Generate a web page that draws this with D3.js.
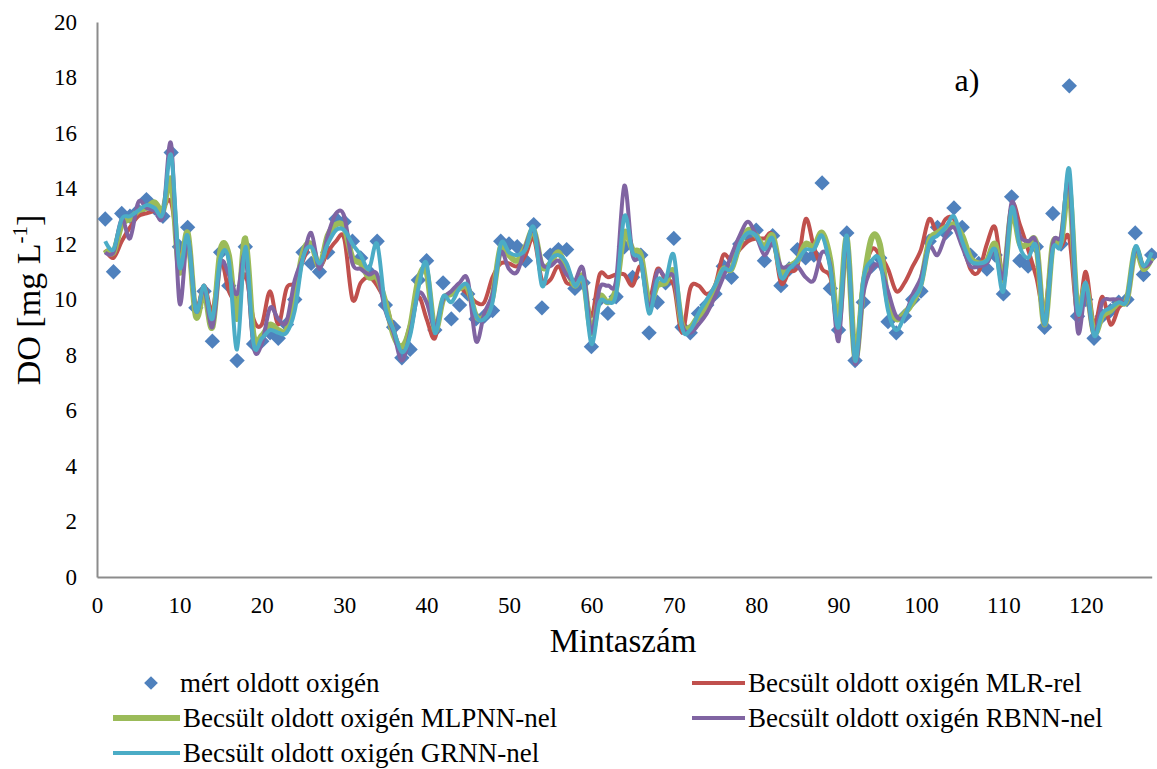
<!DOCTYPE html>
<html>
<head>
<meta charset="utf-8">
<script src="https://cdn.jsdelivr.net/npm/d3@7"></script>
<style>
  html, body { margin: 0; padding: 0; background: #fff; }
  svg { display: block; }
</style>
</head>
<body>
<svg id="chart" width="1157" height="769"></svg>
<script>
// Sample numbers 1..128
const sampleIds = d3.range(1, 129);

// Measured dissolved oxygen [mg/L]
const measured = [
  12.9, 11.0, 13.1, 13.0, 13.2, 13.6, 13.3, 13.0, 15.3, 11.9,
  12.6, 9.7, 10.3, 8.5, 11.7, 10.5, 7.8, 11.9, 8.4, 8.5,
  8.8, 8.6, 9.1, 10.0, 11.7, 11.3, 11.0, 11.7, 12.9, 12.8,
  12.1, 11.5, 11.0, 12.1, 9.8, 9.0, 7.9, 8.2, 10.7, 11.4,
  8.9, 10.6, 9.3, 9.8, 10.2, 9.3, 9.4, 9.6, 12.1, 12.0,
  11.9, 11.4, 12.7, 9.7, 11.6, 11.8, 11.8, 10.4, 10.6, 8.3,
  10.0, 9.5, 10.1, 11.9, 10.8, 11.6, 8.8, 9.9, 10.6, 12.2,
  9.0, 8.8, 9.5, 9.8, 10.2, 11.2, 10.8, 12.0, 12.3, 12.5,
  11.4, 12.3, 10.5, 11.1, 11.8, 11.5, 11.6, 14.2, 10.4, 8.9,
  12.4, 7.8, 9.9, 11.2, 11.5, 9.2, 8.8, 9.4, 10.0, 10.3,
  12.1, 12.6, 12.4, 13.3, 12.6, 11.6, 11.3, 11.1, 11.6, 10.2,
  13.7, 11.4, 11.2, 11.9, 9.0, 13.1, 12.0, 17.7, 9.4, 10.0,
  8.6, 9.4, 9.6, 9.9, 10.0, 12.4, 10.9, 11.6
];

// Estimated with multiple linear regression
const mlr = [
  11.8, 11.5, 12.1, 12.6, 13.0, 13.1, 13.2, 13.3, 13.5, 11.6,
  12.0, 9.7, 10.5, 9.6, 11.4, 10.3, 10.0, 10.9, 9.3, 9.1,
  10.3, 9.1, 10.4, 10.6, 11.4, 12.0, 11.2, 11.7, 12.1, 12.2,
  10.0, 10.6, 10.8, 10.5, 9.9, 8.9, 8.2, 9.1, 10.1, 9.3,
  8.6, 10.0, 10.2, 10.4, 10.2, 9.9, 9.9, 10.8, 11.3, 11.3,
  11.2, 11.6, 12.2, 10.7, 10.7, 11.2, 10.6, 10.6, 10.6, 9.4,
  10.9, 10.8, 10.9, 10.9, 10.5, 11.2, 10.0, 11.1, 10.7, 10.5,
  8.8, 10.4, 10.5, 10.2, 10.5, 11.6, 11.4, 11.8, 12.1, 12.2,
  12.2, 12.3, 10.6, 11.0, 11.2, 12.9, 11.9, 11.1, 10.8, 9.3,
  12.0, 8.1, 10.7, 11.8, 11.6, 11.1, 10.3, 10.6, 11.2, 11.8,
  12.9, 12.4, 12.9, 12.9, 12.1, 11.1, 11.0, 12.0, 12.6, 10.9,
  13.4, 12.7, 11.8, 10.8, 9.6, 11.9, 11.9, 12.2, 9.4, 11.0,
  9.1, 10.1, 9.1, 9.7, 10.1, 11.8, 11.2, 11.5
];

// Estimated with MLP neural network
const mlpnn = [
  11.8, 11.7, 12.7, 12.9, 13.2, 13.3, 13.5, 13.2, 14.3, 11.0,
  12.4, 9.4, 10.3, 9.0, 11.8, 11.6, 9.3, 12.2, 8.7, 8.7,
  9.1, 8.9, 8.9, 10.1, 11.7, 12.0, 11.2, 12.3, 12.7, 12.6,
  11.5, 11.3, 10.8, 10.8, 9.9, 8.7, 8.3, 9.0, 10.7, 11.0,
  8.9, 10.0, 10.2, 10.4, 10.4, 9.4, 9.4, 10.1, 11.9, 11.6,
  11.4, 11.9, 12.5, 11.2, 11.3, 11.7, 11.1, 10.5, 10.8, 8.8,
  10.1, 9.9, 10.4, 12.4, 11.8, 11.6, 9.9, 10.5, 10.6, 11.0,
  9.1, 9.0, 9.4, 9.7, 10.4, 11.1, 11.1, 12.0, 12.5, 12.3,
  11.9, 12.3, 11.0, 11.2, 11.4, 12.0, 11.9, 12.4, 11.4, 9.1,
  12.2, 7.9, 10.5, 12.2, 12.0, 9.9, 9.3, 9.5, 9.9, 10.6,
  12.1, 12.4, 12.6, 12.7, 12.3, 11.5, 11.3, 11.4, 12.0, 10.7,
  13.2, 12.0, 12.0, 12.0, 9.1, 12.0, 12.1, 14.0, 9.6, 10.5,
  8.8, 9.4, 9.6, 9.9, 10.0, 11.8, 11.1, 11.5
];

// Estimated with radial basis neural network
const rbnn = [
  11.7, 11.7, 12.9, 12.2, 13.5, 13.3, 13.2, 13.0, 15.6, 9.9,
  12.2, 9.6, 10.4, 9.0, 11.3, 10.9, 10.2, 11.6, 8.3, 8.4,
  9.7, 9.3, 9.2, 10.7, 11.5, 12.4, 11.1, 12.3, 13.1, 13.0,
  11.3, 11.1, 10.9, 10.9, 9.6, 8.8, 7.8, 8.8, 10.2, 9.9,
  9.0, 10.0, 10.3, 10.6, 10.7, 8.5, 9.5, 10.2, 11.7, 11.1,
  11.0, 11.9, 12.5, 11.3, 11.2, 11.4, 10.9, 10.7, 11.1, 8.8,
  10.4, 10.5, 10.7, 14.1, 11.6, 11.4, 9.7, 11.0, 10.8, 10.8,
  9.1, 8.8, 9.1, 9.5, 10.1, 10.8, 11.6, 12.3, 12.8, 12.3,
  11.6, 12.0, 11.2, 11.2, 11.2, 10.8, 10.7, 11.7, 11.2, 8.5,
  12.2, 7.7, 10.2, 11.1, 11.2, 10.3, 9.4, 9.4, 10.2, 10.8,
  11.9, 11.6, 12.3, 12.6, 11.9, 11.2, 11.2, 11.3, 11.8, 10.8,
  13.5, 12.3, 12.1, 12.0, 9.1, 12.0, 12.3, 14.3, 8.9, 10.3,
  8.7, 9.9, 10.0, 10.0, 10.0, 11.8, 11.2, 11.4
];

// Estimated with general regression neural network
const grnn = [
  12.1, 11.8, 12.9, 13.0, 13.2, 13.4, 13.3, 13.1, 15.2, 11.2,
  12.3, 9.6, 10.5, 9.3, 11.5, 11.4, 8.2, 11.9, 8.4, 8.6,
  8.9, 8.8, 8.8, 9.6, 11.5, 11.9, 11.3, 12.0, 12.5, 12.5,
  12.0, 11.6, 11.1, 12.0, 9.7, 8.9, 8.1, 8.7, 10.4, 11.3,
  8.8, 10.1, 9.9, 10.4, 10.5, 9.4, 9.3, 9.9, 12.0, 11.7,
  11.6, 11.8, 12.6, 10.5, 11.4, 11.6, 11.3, 10.5, 10.7, 8.4,
  9.9, 9.9, 10.2, 13.0, 11.7, 11.4, 9.5, 10.7, 10.7, 11.6,
  9.0, 8.9, 9.5, 10.0, 10.5, 11.1, 11.1, 12.0, 12.4, 12.3,
  11.8, 12.2, 10.8, 11.1, 11.4, 11.8, 11.8, 12.3, 11.1, 9.0,
  12.3, 7.8, 10.7, 11.4, 11.4, 9.6, 8.9, 9.4, 10.0, 10.5,
  12.0, 12.3, 12.6, 13.0, 12.1, 11.4, 11.3, 11.4, 11.8, 10.3,
  13.3, 11.9, 11.5, 11.9, 9.1, 11.8, 12.0, 14.7, 9.6, 10.6,
  8.7, 9.5, 9.7, 9.9, 10.0, 11.9, 11.2, 11.7
];

// Axis ticks
const xTicks = d3.range(0, 121, 10);
const yTicks = d3.range(0, 21, 2);

const lineSeries = [
  { name: "Becsült oldott oxigén MLR-rel", values: mlr, color: "#C0504D", width: 4 },
  { name: "Becsült oldott oxigén MLPNN-nel", values: mlpnn, color: "#9BBB59", width: 6 },
  { name: "Becsült oldott oxigén RBNN-nel", values: rbnn, color: "#8064A2", width: 4 },
  { name: "Becsült oldott oxigén GRNN-nel", values: grnn, color: "#4BACC6", width: 4 }
];

const serif = "'Liberation Serif', 'Times New Roman', serif";
const svg = d3.select("#chart").attr("font-family", serif);
const plotLeft = 97, plotRight = 1151.7, plotTop = 22, plotBottom = 577;

const x = d3.scaleLinear().domain([0, 128]).range([plotLeft, plotRight]);
const y = d3.scaleLinear().domain([0, 20]).range([plotBottom, plotTop]);

// Y axis
const yAxis = svg.append("g").attr("transform", `translate(${plotLeft},0)`)
  .call(d3.axisLeft(y).tickValues(yTicks).tickSize(0).tickPadding(20));
yAxis.attr("font-family", serif).attr("font-size", 23);
yAxis.select(".domain").attr("stroke", "#8c8c8c").attr("stroke-width", 2);
yAxis.selectAll("text").attr("fill", "#000");

// X axis
const xAxis = svg.append("g").attr("transform", `translate(0,${plotBottom})`)
  .call(d3.axisBottom(x).tickValues(xTicks).tickSize(0).tickPadding(20));
xAxis.attr("font-family", serif).attr("font-size", 23);
xAxis.select(".domain").attr("stroke", "#8c8c8c").attr("stroke-width", 2);
xAxis.selectAll("text").attr("fill", "#000");

// Axis titles
svg.append("text").attr("x", 623).attr("y", 652).attr("text-anchor", "middle")
  .attr("font-size", 33).text("Mintaszám");

const yTitle = svg.append("text")
  .attr("transform", "translate(40,300) rotate(-90)")
  .attr("text-anchor", "middle").attr("font-size", 34);
yTitle.append("tspan").text("DO [mg L");
yTitle.append("tspan").attr("dy", -13).attr("font-size", 21).text("-1");
yTitle.append("tspan").attr("dy", 13).text("]");

svg.append("text").attr("x", 967).attr("y", 91).attr("text-anchor", "middle")
  .attr("font-size", 32).text("a)");

const diamond = d3.symbol().type(d3.symbolDiamond2).size(150);

// Measured points
svg.append("g").selectAll("path").data(measured).join("path")
  .attr("d", diamond)
  .attr("transform", (d, i) => `translate(${x(sampleIds[i])},${y(d)})`)
  .attr("fill", "#4F81BD");

// Estimated series as smoothed lines
const line = d3.line()
  .x((d, i) => x(sampleIds[i]))
  .y(d => y(d))
  .curve(d3.curveCardinal.tension(0));

lineSeries.forEach(s => {
  svg.append("path").attr("d", line(s.values))
    .attr("fill", "none").attr("stroke", s.color)
    .attr("stroke-width", s.width).attr("stroke-linejoin", "round");
});

// Legend
const legendFont = 27;
const lg = svg.append("g");
lg.append("path").attr("d", d3.symbol().type(d3.symbolDiamond2).size(120))
  .attr("transform", "translate(151,683)").attr("fill", "#4F81BD");
lg.append("text").attr("x", 180).attr("y", 692).attr("font-size", legendFont).text("mért oldott oxigén");

const legendPos = [
  { x1: 692, x2: 745, y: 683 },
  { x1: 113, x2: 180, y: 718 },
  { x1: 692, x2: 745, y: 718 },
  { x1: 113, x2: 180, y: 753 }
];
lineSeries.forEach((s, k) => {
  const p = legendPos[k];
  lg.append("line").attr("x1", p.x1).attr("x2", p.x2).attr("y1", p.y).attr("y2", p.y)
    .attr("stroke", s.color).attr("stroke-width", s.width);
  lg.append("text").attr("x", p.x2 + 3).attr("y", p.y + 9)
    .attr("font-size", legendFont).text(s.name);
});
</script>
</body>
</html>
